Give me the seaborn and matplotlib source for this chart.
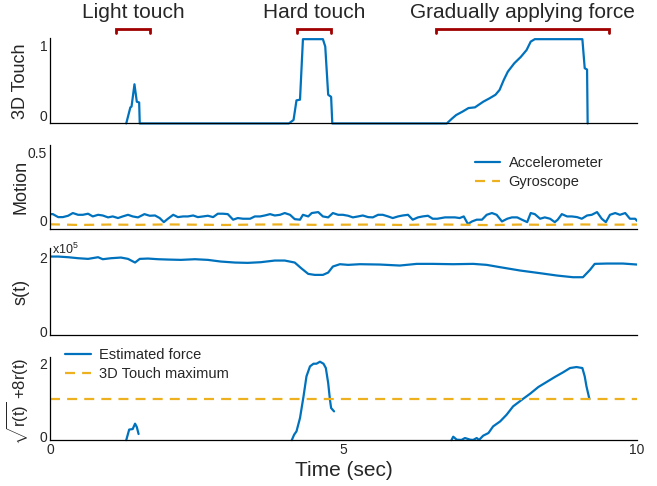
# Force sensing figure: 3D Touch, motion sensors, s(t) and estimated force
import matplotlib
matplotlib.use('Agg')
import matplotlib.pyplot as plt
import matplotlib.transforms as mtransforms
import seaborn as sns

sns.set_style('white')
plt.rcParams['font.family'] = ['Liberation Sans', 'DejaVu Sans']
plt.rcParams['mathtext.fontset'] = 'custom'
plt.rcParams['mathtext.rm'] = 'Liberation Sans'
plt.rcParams['mathtext.it'] = 'Liberation Sans:italic'

BLUE = '#0072BD'
GOLD = '#EDB120'
RED = '#A00000'

# ---- data ----
# 3D Touch reading (bottom of the axis = no touch)
touch_t = [1.30, 1.37, 1.39, 1.44, 1.48, 1.52, 1.53,
           4.07, 4.15, 4.20, 4.26, 4.31, 4.65, 4.69, 4.74, 4.79, 4.81,
           6.76, 6.85, 6.92, 7.03, 7.13, 7.24, 7.38, 7.49, 7.59, 7.66, 7.73, 7.80,
           7.91, 8.02, 8.12, 8.19, 8.26, 9.07, 9.11, 9.15, 9.16]
touch_v = [-0.12, 0.11, 0.12, 0.44, 0.19, 0.18, -0.12,
           -0.12, -0.07, 0.21, 0.22, 1.085, 1.085, 0.98, 0.29, 0.26, -0.12,
           -0.12, -0.05, 0.00, 0.05, 0.10, 0.11, 0.19, 0.24, 0.29, 0.36, 0.50, 0.62,
           0.74, 0.83, 0.93, 1.05, 1.085, 1.085, 0.67, 0.65, -0.12]

# brackets above the top panel
bracket_start = [1.13, 4.21, 6.58]
bracket_end = [1.70, 4.79, 9.52]
bracket_labels = ['Light touch', 'Hard touch', 'Gradually applying force']

# motion sensors
acc_t = [0.00, 0.05, 0.14, 0.22, 0.31, 0.39, 0.48, 0.56, 0.65, 0.73, 0.82, 0.90, 0.99,
         1.07, 1.16, 1.24, 1.33, 1.41, 1.50, 1.61, 1.70, 1.79, 1.87, 1.94, 2.01, 2.10,
         2.18, 2.27, 2.35, 2.44, 2.52, 2.61, 2.69, 2.78, 2.86, 2.95, 3.03, 3.12, 3.20,
         3.29, 3.41, 3.49, 3.58, 3.66, 3.75, 3.83, 3.92, 4.00, 4.09, 4.17, 4.26, 4.31,
         4.40, 4.46, 4.57, 4.65, 4.74, 4.82, 4.91, 4.99, 5.08, 5.16, 5.25, 5.33, 5.42,
         5.50, 5.59, 5.67, 5.76, 5.84, 5.93, 6.01, 6.10, 6.18, 6.27, 6.35, 6.44, 6.52,
         6.60, 6.73, 6.81, 6.90, 6.98, 7.05, 7.12, 7.19, 7.27, 7.36, 7.44, 7.53, 7.61,
         7.70, 7.79, 7.87, 7.96, 8.04, 8.13, 8.19, 8.26, 8.35, 8.43, 8.52, 8.60, 8.65,
         8.72, 8.81, 8.89, 8.98, 9.06, 9.15, 9.23, 9.32, 9.40, 9.47, 9.54, 9.63, 9.71,
         9.80, 9.88, 9.97, 10.00]
acc_v = [0.049, 0.049, 0.027, 0.027, 0.037, 0.057, 0.044, 0.044, 0.052, 0.032, 0.044, 0.039, 0.025,
         0.032, 0.020, 0.032, 0.044, 0.032, 0.025, 0.049, 0.037, 0.039, 0.020, -0.010, 0.015, 0.044,
         0.027, 0.032, 0.032, 0.039, 0.027, 0.032, 0.037, 0.027, 0.052, 0.052, 0.049, 0.008, 0.020,
         0.015, 0.015, 0.032, 0.032, 0.039, 0.049, 0.039, 0.044, 0.057, 0.044, 0.012, 0.008, 0.044,
         0.032, 0.057, 0.064, 0.032, 0.025, 0.057, 0.044, 0.044, 0.037, 0.025, 0.032, 0.039, 0.027,
         0.025, 0.044, 0.044, 0.032, 0.020, 0.032, 0.039, 0.044, 0.008, 0.025, 0.032, 0.037, 0.015,
         0.015, 0.025, 0.025, 0.025, 0.020, 0.032, -0.024, -0.005, 0.008, 0.008, 0.044, 0.057, 0.044,
         -0.005, 0.015, 0.025, 0.025, 0.008, -0.010, 0.057, 0.049, 0.015, 0.025, 0.015, -0.010, 0.008,
         0.049, 0.032, 0.032, 0.027, 0.015, 0.039, 0.044, 0.064, 0.015, -0.010, 0.044, 0.057, 0.044,
         0.057, 0.015, 0.015, 0.000]
gyro_t = [0.0, 0.5, 1.0, 1.5, 2.0, 2.5, 3.0, 3.5, 4.0, 4.5, 5.0, 5.5, 6.0, 6.5, 7.0,
          7.5, 8.0, 8.5, 9.0, 9.5, 10.0]
gyro_v = [-0.026, -0.031, -0.028, -0.030, -0.027, -0.029, -0.031, -0.028, -0.027, -0.030,
          -0.029, -0.028, -0.031, -0.027, -0.029, -0.032, -0.028, -0.030, -0.027, -0.029, -0.028]

# s(t), in units of 1e5
s_t = [0.00, 0.14, 0.31, 0.48, 0.65, 0.82, 0.90, 1.04, 1.21, 1.33, 1.45, 1.53, 1.67, 1.84,
       2.01, 2.23, 2.47, 2.69, 2.91, 3.15, 3.37, 3.59, 3.83, 4.00, 4.17, 4.28, 4.40, 4.51,
       4.65, 4.74, 4.82, 4.94, 5.08, 5.28, 5.62, 5.96, 6.25, 6.52, 6.87, 7.21, 7.44, 7.67,
       8.01, 8.35, 8.64, 8.91, 9.08, 9.20, 9.28, 9.49, 9.76, 10.00]
s_v = [2.028, 2.028, 2.010, 1.983, 1.965, 2.010, 1.956, 1.983, 2.001, 1.965, 1.866, 1.965, 1.974, 1.956,
       1.947, 1.938, 1.956, 1.938, 1.893, 1.866, 1.857, 1.875, 1.920, 1.920, 1.866, 1.713, 1.559, 1.532,
       1.532, 1.595, 1.758, 1.821, 1.803, 1.821, 1.812, 1.785, 1.830, 1.830, 1.821, 1.830, 1.803, 1.740,
       1.650, 1.578, 1.514, 1.469, 1.469, 1.668, 1.830, 1.839, 1.839, 1.812]

# estimated force sqrt(r(t)) + 8 r(t), three separate segments
f1_t = [1.30, 1.35, 1.41, 1.45, 1.48, 1.51]
f1_v = [-0.085, 0.20, 0.215, 0.36, 0.27, 0.08]
f2_t = [4.12, 4.16, 4.20, 4.26, 4.32, 4.37, 4.43, 4.49, 4.54, 4.60, 4.66, 4.70, 4.74, 4.77, 4.79, 4.84]
f2_v = [-0.085, 0.062, 0.152, 0.513, 1.098, 1.639, 1.909, 1.981, 1.981, 2.035, 1.981, 1.864, 1.459,
        1.008, 0.783, 0.693]
f3_t = [6.84, 6.87, 6.93, 7.01, 7.07, 7.16, 7.21, 7.27, 7.31, 7.38, 7.47, 7.55, 7.67, 7.78, 7.89,
        8.04, 8.18, 8.32, 8.46, 8.60, 8.74, 8.86, 8.97, 9.07, 9.11, 9.14, 9.19]
f3_v = [-0.085, 0.008, -0.073, -0.080, -0.028, -0.073, -0.080, -0.028, -0.080, 0.035, 0.107, 0.287,
        0.422, 0.603, 0.828, 1.008, 1.170, 1.351, 1.486, 1.621, 1.747, 1.864, 1.891, 1.864, 1.639,
        1.368, 1.026]
touch_max = 1.035

# ---- figure ----
fig = plt.figure(figsize=(6.57, 4.86), dpi=100)
left, width = 0.076, 0.8935
ax1 = fig.add_axes([left, 0.746, width, 0.175])
ax2 = fig.add_axes([left, 0.529, width, 0.173])
ax3 = fig.add_axes([left, 0.311, width, 0.178])
ax4 = fig.add_axes([left, 0.094, width, 0.172])
axes = [ax1, ax2, ax3, ax4]

line_kw = dict(estimator=None, sort=False, color=BLUE, linewidth=1.6)
dash = (0, (4.5, 3.2))

# panel 1 - 3D Touch
sns.lineplot(x=touch_t, y=touch_v, ax=ax1, clip_on=False, **line_kw)
ax1.set_ylim(-0.12, 1.096)
ax1.set_yticks([0, 1])
ax1.set_ylabel('3D Touch')

# brackets and their labels above panel 1
trans = mtransforms.blended_transform_factory(ax1.transData, ax1.transAxes)
for a, b, lab in zip(bracket_start, bracket_end, bracket_labels):
    ax1.plot([a, a, b, b], [1.062, 1.109, 1.109, 1.062], color=RED, lw=2.0,
             transform=trans, clip_on=False, solid_joinstyle='miter')
    ax1.text((a + b) / 2, 1.30, lab, transform=trans, ha='center', va='center',
             fontsize=15)

# panel 2 - motion
sns.lineplot(x=acc_t, y=acc_v, ax=ax2, label='Accelerometer', **line_kw)
sns.lineplot(x=gyro_t, y=gyro_v, ax=ax2, label='Gyroscope', estimator=None, sort=False,
             color=GOLD, linewidth=1.6, linestyle=dash)
ax2.set_ylim(-0.06, 0.56)
ax2.set_yticks([0, 0.5])
ax2.set_yticklabels(['0', '0.5'])
ax2.set_ylabel('Motion')
ax2.legend(loc='upper left', bbox_to_anchor=(0.724, 0.87), frameon=False, fontsize=10.5,
           borderpad=0, borderaxespad=0, handlelength=1.75, handletextpad=0.55,
           labelspacing=0.35)

# panel 3 - s(t)
sns.lineplot(x=s_t, y=s_v, ax=ax3, **line_kw)
ax3.set_ylim(-0.09, 2.25)
ax3.set_yticks([0, 2])
ax3.set_ylabel('s(t)')
ax3.text(0.003, 0.985, r'x10$^5$', transform=ax3.transAxes, ha='left', va='center', fontsize=9)

# panel 4 - estimated force
sns.lineplot(x=f1_t, y=f1_v, ax=ax4, label='Estimated force', clip_on=False, **line_kw)
sns.lineplot(x=f2_t, y=f2_v, ax=ax4, clip_on=False, **line_kw)
sns.lineplot(x=f3_t, y=f3_v, ax=ax4, clip_on=False, **line_kw)
sns.lineplot(x=[0, 10], y=[touch_max, touch_max], ax=ax4, label='3D Touch maximum',
             estimator=None, color=GOLD, linewidth=1.6, linestyle=dash)
ax4.set_ylim(-0.09, 2.17)
ax4.set_yticks([0, 2])
ax4.set_ylabel(r'$\sqrt{\mathregular{r(t)}}$ +8r(t)')
ax4.legend(loc='upper left', bbox_to_anchor=(0.026, 1.10), frameon=False, fontsize=10.5,
           borderpad=0, borderaxespad=0, handlelength=1.75, handletextpad=0.55,
           labelspacing=0.35)
ax4.set_xticks([0, 5, 10])
ax4.set_xlabel('Time (sec)', fontsize=15, labelpad=3)

# common axis styling
for ax in axes:
    ax.set_xlim(0, 10)
    sns.despine(ax=ax)
    for side in ['left', 'bottom']:
        ax.spines[side].set_color('black')
        ax.spines[side].set_linewidth(0.9)
    ax.tick_params(length=0, labelsize=10, pad=2)
    ax.yaxis.label.set_size(13)
    ax.yaxis.set_label_coords(-0.035, 0.5)
    if ax is not ax4:
        ax.set_xticks([])

# the sqrt label is taller, keep it inside the figure
ax4.yaxis.label.set_size(12)
ax4.yaxis.set_label_coords(-0.033, 0.46)

plt.savefig('out.png', dpi=100)
